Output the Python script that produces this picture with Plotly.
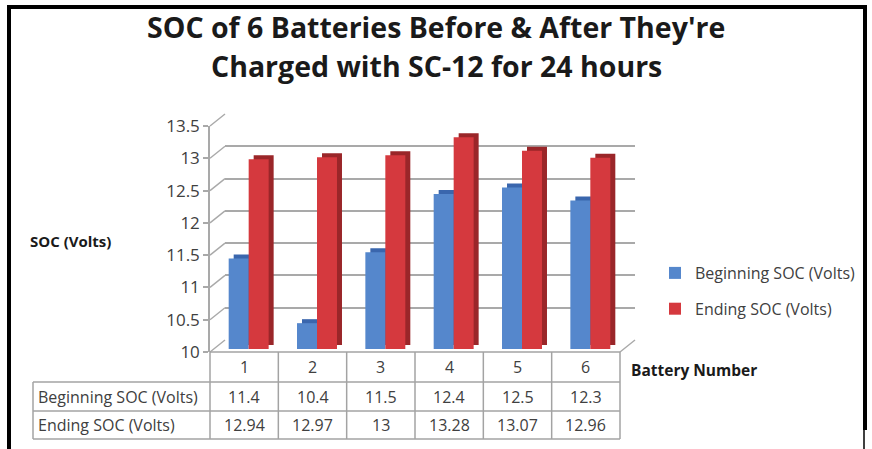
import plotly.graph_objects as go

# ---------------- data ----------------
categories = ["1", "2", "3", "4", "5", "6"]
series_names = ["Beginning SOC (Volts)", "Ending SOC (Volts)"]
beginning_soc = [11.4, 10.4, 11.5, 12.4, 12.5, 12.3]
ending_soc = [12.94, 12.97, 13.0, 13.28, 13.07, 12.96]
y_ticks = [10, 10.5, 11, 11.5, 12, 12.5, 13, 13.5]
title_lines = ["SOC of 6 Batteries Before & After They're", "Charged with SC-12 for 24 hours"]
y_title = "SOC (Volts)"
x_title = "Battery Number"

# ---------------- geometry / style ----------------
W, H = 872, 449
FONT = "Open Sans"
TXT = "#404040"
GRID = "#a9a9a9"
TABLE_LINE = "#a3a3a3"
front_colors = ["#5587cc", "#d5393e"]
dark_colors = ["#3a66ad", "#9a2629"]

FX0, FX1 = 210, 620      # front face x extent (px)
FY0, FY1 = 352, 126      # front face y for 10 and 13.5 (px)
DX, DY = 15, 12          # depth offset of back wall
BDX, BDY = 4.5, 3        # bar front face offset
SDX, SDY = 5, 4          # bar depth (side / top) offset
YMIN, YMAX = 10, 13.5


def px(x):
    return x / W


def py(y):
    return 1 - y / H


def yv(v):
    return FY0 - (v - YMIN) / (YMAX - YMIN) * (FY0 - FY1)


fig = go.Figure()

values = [beginning_soc, ending_soc]

# dark depth layer (side + top faces) -- drawn first (subplot x3y3)
for i in range(2):
    fig.add_trace(go.Bar(x=categories, y=[v - YMIN for v in values[i]], base=YMIN,
                         marker=dict(color=dark_colors[i], line=dict(width=0)),
                         xaxis="x3", yaxis="y3", showlegend=False, hoverinfo="skip"))
# front faces (subplot x4y4, drawn on top)
for i in range(2):
    fig.add_trace(go.Bar(x=categories, y=[v - YMIN for v in values[i]], base=YMIN,
                         name=series_names[i], legendgroup=series_names[i],
                         marker=dict(color=front_colors[i], line=dict(width=0)),
                         xaxis="x4", yaxis="y4"))

# empty traces to create the front y axis subplot and back-wall subplot
fig.add_trace(go.Scatter(x=categories, y=[None] * 6, xaxis="x", yaxis="y",
                         showlegend=False, hoverinfo="skip"))
fig.add_trace(go.Scatter(x=categories, y=[None] * 6, xaxis="x2", yaxis="y2",
                         showlegend=False, hoverinfo="skip"))

hidden_x = dict(showgrid=False, zeroline=False, showticklabels=False, ticks="",
                showline=False, fixedrange=True, automargin=False)
hidden_y = dict(showgrid=False, zeroline=False, showticklabels=False, ticks="",
                showline=False, range=[YMIN, YMAX], automargin=False)

fig.update_layout(
    template="none",
    width=W, height=H, autosize=False,
    margin=dict(l=0, r=0, t=0, b=0, pad=0, autoexpand=False),
    paper_bgcolor="white",
    plot_bgcolor="rgba(0,0,0,0)",
    barmode="group", bargap=0.415, bargroupgap=0,
    font=dict(family=FONT, color=TXT),
    # front axis: ticks and labels
    xaxis=dict(domain=[px(FX0), px(FX1)], **hidden_x),
    yaxis=dict(domain=[py(FY0), py(FY1)], range=[YMIN, YMAX], tickvals=y_ticks,
               ticktext=[f"{t:g}" for t in y_ticks], showgrid=False, zeroline=False,
               showline=True, linecolor=GRID, linewidth=1.5, ticks="outside",
               ticklen=5, tickcolor=GRID, tickwidth=1.5, automargin=False,
               tickfont=dict(size=17, color=TXT, family=FONT), anchor="x"),
    # back wall with gridlines
    xaxis2=dict(domain=[px(FX0 + DX), px(FX1 + DX)], **hidden_x, anchor="y2"),
    yaxis2=dict(domain=[py(FY0 - DY), py(FY1 - DY)], range=[YMIN, YMAX], tickvals=y_ticks,
                showgrid=True, gridcolor=GRID, gridwidth=1.5, zeroline=False,
                showticklabels=False, ticks="", showline=False, anchor="x2",
                automargin=False),
    # bar depth faces
    xaxis3=dict(domain=[px(FX0 + BDX + SDX), px(FX1 + BDX + SDX)], **hidden_x, anchor="y3"),
    yaxis3=dict(domain=[py(FY0 - BDY - SDY), py(FY1 - BDY - SDY)], **hidden_y, anchor="x3"),
    # bar front faces
    xaxis4=dict(domain=[px(FX0 + BDX), px(FX1 + BDX)], **hidden_x, anchor="y4"),
    yaxis4=dict(domain=[py(FY0 - BDY), py(FY1 - BDY)], **hidden_y, anchor="x4"),
    legend=dict(x=px(655), y=py(256), xanchor="left", yanchor="top",
                font=dict(size=16, color=TXT, family=FONT), tracegroupgap=12,
                bgcolor="rgba(0,0,0,0)", borderwidth=0, traceorder="grouped"),
    hovermode=False,
)

shapes = []


def line(x0, y0, x1, y1, color=GRID, width=1.5, layer="below"):
    shapes.append(dict(type="line", xref="paper", yref="paper", x0=px(x0), y0=py(y0),
                       x1=px(x1), y1=py(y1), line=dict(color=color, width=width), layer=layer))


# left side wall diagonals
for t in y_ticks:
    line(FX0, yv(t), FX0 + DX, yv(t) - DY)
# floor: right diagonal
line(FX1, FY0, FX1 + DX, FY0 - DY)

# table
n = len(categories)
cw = (FX1 - FX0) / n
col_x = [FX0 + i * cw for i in range(n + 1)]
ROW_TOP, ROW1, ROW2, ROW_BOT = FY0, 382, 411, 439
LABEL_X0 = 33
line(FX0, ROW_TOP, FX1, ROW_TOP, TABLE_LINE, layer="above")
for x in col_x:
    line(x, ROW_TOP, x, ROW_BOT, TABLE_LINE, layer="above")
for y in (ROW1, ROW2, ROW_BOT):
    line(LABEL_X0, y, FX1, y, TABLE_LINE, layer="above")
line(LABEL_X0, ROW1, LABEL_X0, ROW_BOT, TABLE_LINE, layer="above")

# outer frame
line(9, 7, 9, 449, "black", 4, "above")
line(7, 7, 867, 7, "black", 4, "above")
line(865, 5, 865, 430, "black", 4, "above")
line(864, 430, 864, 449, "black", 1.5, "above")

fig.update_layout(shapes=shapes)

ann = []


def text(x, y, s, size=16, bold=False, xanchor="center", color=TXT):
    ann.append(dict(x=px(x), y=py(y), xref="paper", yref="paper", text=f"<b>{s}</b>" if bold else s,
                    showarrow=False, xanchor=xanchor, yanchor="middle",
                    font=dict(size=size, color=color, family=FONT)))


for i, c in enumerate(categories):
    cx = FX0 + (i + 0.5) * cw
    text(cx, (ROW_TOP + ROW1) / 2, c)
    text(cx, (ROW1 + ROW2) / 2, f"{beginning_soc[i]:g}")
    text(cx, (ROW2 + ROW_BOT) / 2, f"{ending_soc[i]:g}")
text(LABEL_X0 + 3, (ROW1 + ROW2) / 2, series_names[0], xanchor="left")
text(LABEL_X0 + 3, (ROW2 + ROW_BOT) / 2, series_names[1], xanchor="left")

text(436, 27, title_lines[0], size=28.5, bold=True, color="#1a1a1a")
text(436, 66, title_lines[1], size=28.5, bold=True, color="#1a1a1a")
text(70, 241, y_title, size=15, bold=True, color="#1a1a1a")
text(694, 370, x_title, size=15.5, bold=True, color="#1a1a1a")

fig.update_layout(annotations=ann)

post = (
    "document.documentElement.style.margin='0';"
    "document.documentElement.style.padding='0';"
    "document.documentElement.style.overflow='hidden';"
    "document.body.style.margin='0';"
    "document.body.style.padding='0';"
    "document.body.style.overflow='hidden';"
    "var d=document.getElementById('{plot_id}');"
    "d.style.position='absolute';d.style.left='0px';d.style.top='0px';"
)

fig.write_html("out.html", config={"displayModeBar": False}, post_script=post)
